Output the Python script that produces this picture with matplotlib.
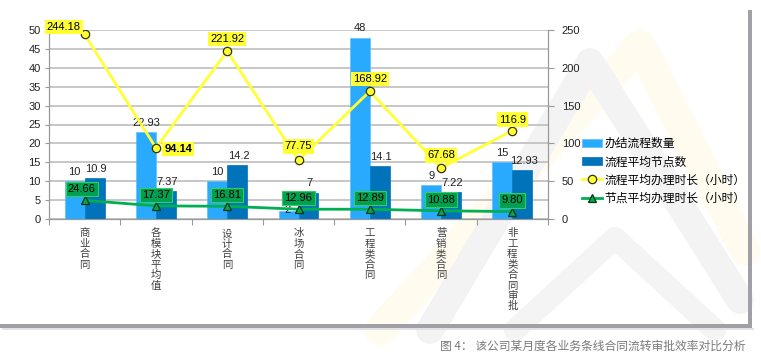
import matplotlib
matplotlib.use("Agg")
import matplotlib.pyplot as plt
import numpy as np
from matplotlib.lines import Line2D
from matplotlib.patches import Rectangle

plt.rcParams['font.family'] = ['Liberation Sans', 'Noto Sans CJK SC', 'DejaVu Sans']

categories = ['商业合同', '各模块平均值', '设计合同', '冰场合同', '工程类合同', '营销类合同', '非工程类合同审批']
done_count = [10, 22.93, 10, 2, 48, 9, 15]
avg_nodes = [10.9, 7.37, 14.2, 7, 14.1, 7.22, 12.93]
flow_hours = [244.18, 94.14, 221.92, 77.75, 168.92, 67.68, 116.9]
node_hours = [24.66, 17.37, 16.81, 12.96, 12.89, 10.88, 9.80]
series_names = ['办结流程数量', '流程平均节点数', '流程平均办理时长（小时）', '节点平均办理时长（小时）']
left_ticks = [0, 5, 10, 15, 20, 25, 30, 35, 40, 45, 50]
right_ticks = [0, 50, 100, 150, 200, 250]
caption = '图 4： 该公司某月度各业务条线合同流转审批效率对比分析'

W, H = 761, 358
fig = plt.figure(figsize=(W / 100, H / 100), dpi=100)


def fx(x):
    return x / W


def fy(y):
    return 1 - y / H


# watermark (faint logo)
for pts, col, lw in [
    ([(380, 330), (640, 45), (745, 250)], '#FFFBEE', 22),
    ([(430, 330), (590, 62), (740, 300)], '#F3F3F3', 20),
    ([(515, 330), (615, 238), (715, 330)], '#F4F4F4', 16),
]:
    xs = [fx(p[0]) for p in pts]
    ys = [fy(p[1]) for p in pts]
    fig.add_artist(Line2D(xs, ys, transform=fig.transFigure, color=col, lw=lw,
                          solid_capstyle='round', solid_joinstyle='round', zorder=-5))

# frame shadow
fig.add_artist(Rectangle((fx(748), fy(328)), 4 / W, 318 / H, transform=fig.transFigure,
                         facecolor='#A0A0A6', edgecolor='none', zorder=-4))
fig.add_artist(Rectangle((fx(0), fy(328)), 752 / W, 4 / H, transform=fig.transFigure,
                         facecolor='#A0A0A6', edgecolor='none', zorder=-4))
fig.add_artist(Rectangle((fx(2), fy(330)), 752 / W, 2 / H, transform=fig.transFigure,
                         facecolor='#E2E2E4', edgecolor='none', zorder=-4))

ax = fig.add_axes([fx(49), fy(219), fx(548) - fx(49), fy(30) - fy(219)])
ax.patch.set_visible(False)
ax2 = ax.twinx()
ax2.patch.set_visible(False)

x = np.arange(len(categories))
bw = 0.28
light = '#29AAFF'
dark = '#0073BA'
b1 = ax.bar(x - bw / 2, done_count, bw, color=light, edgecolor='#5BC0FF', linewidth=0.5, zorder=3,
            label=series_names[0])
b2 = ax.bar(x + bw / 2, avg_nodes, bw, color=dark, edgecolor=dark, linewidth=0.5, zorder=3,
            label=series_names[1])

for i, (xi, v) in enumerate(zip(x, done_count)):
    if v < 5:
        ax.annotate(f'{v:g}', (xi - bw / 2, v), xytext=(-1, 1), textcoords='offset points',
                    ha='center', va='center', fontsize=8, color='#222222', zorder=5)
    else:
        ax.annotate(f'{v:g}', (xi - bw / 2, v), xytext=(0, 3), textcoords='offset points',
                    ha='center', va='bottom', fontsize=8, color='#222222', zorder=5)
for xi, v in zip(x, avg_nodes):
    ax.annotate(f'{v:g}', (xi + bw / 2, v), xytext=(1, 3), textcoords='offset points',
                ha='center', va='bottom', fontsize=8, color='#222222', zorder=5)

ax.set_ylim(0, 50)
ax.set_xlim(-0.5, len(categories) - 0.5)
ax.set_yticks(left_ticks)
ax.yaxis.grid(True, color='#BDBDBD', lw=1.2, zorder=0)
ax.set_axisbelow(True)
ax.tick_params(axis='y', labelsize=8, colors='#222222', length=3, color='#999999', pad=3)
ax.set_xticks(np.arange(len(categories) + 1) - 0.5)
ax.set_xticklabels([])
ax.tick_params(axis='x', length=4, color='#999999')
for i, c in enumerate(categories):
    ax.text(i, -0.05, '\n'.join(c), transform=ax.get_xaxis_transform(), ha='center', va='top',
            fontsize=7.5, color='#404040', linespacing=1.05, family=['Noto Sans CJK SC'])
for s in ['top']:
    ax.spines[s].set_visible(False)
    ax2.spines[s].set_visible(False)
for a in (ax, ax2):
    a.spines['left'].set_color('#999999')
    a.spines['right'].set_color('#999999')
    a.spines['bottom'].set_color('#999999')

ax2.set_ylim(0, 250)
ax2.set_yticks(right_ticks)
ax2.tick_params(axis='y', labelsize=8, colors='#222222', length=4, color='#999999', pad=6)

l1, = ax2.plot(x, flow_hours, color='#FFFF33', lw=2, marker='o', markersize=6,
               markerfacecolor='#FFFF33', markeredgecolor='#333300', markeredgewidth=0.9, zorder=4,
               label=series_names[2])
l2, = ax2.plot(x, node_hours, color='#00B050', lw=2, marker='^', markersize=6,
               markerfacecolor='#00A84A', markeredgecolor='#003318', markeredgewidth=0.9, zorder=4,
               label=series_names[3])

yoffs = [(-15, 5.5), (16, -1), (0, 9), (0, 10), (0, 9), (0, 9), (0, 8)]
for i, (xi, v) in enumerate(zip(x, flow_hours)):
    ax2.annotate(f'{v:g}', (xi, v), xytext=yoffs[i], textcoords='offset points', ha='center', va='center',
                 fontsize=8, color='black', fontweight='bold' if i == 1 else 'normal', zorder=6,
                 bbox=dict(boxstyle='square,pad=0.2', facecolor='#FFFF33', edgecolor='none'))
for i, (xi, v) in enumerate(zip(x, node_hours)):
    ax2.annotate(f'{v:.2f}', (xi, v), xytext=(-2 if i == 0 else 0, 8), textcoords='offset points',
                 ha='center', va='center', fontsize=8, color='black', zorder=6,
                 bbox=dict(boxstyle='square,pad=0.2', facecolor='#00A050', edgecolor='#33CC66', lw=0.8))

handles = [b1, b2, l1, l2]
fig.legend(handles, series_names, loc='upper left', bbox_to_anchor=(fx(582), fy(137)),
           frameon=False, handlelength=1.7, handletextpad=0.2, labelspacing=0.45,
           borderaxespad=0, borderpad=0, prop={'family': ['Noto Sans CJK SC'], 'size': 8.5})

fig.text(fx(745), fy(346), caption, ha='right', va='center', fontsize=8.5, color='#7A7A7A',
         family=['Noto Sans CJK SC'])

fig.savefig('out.png', dpi=100, facecolor='white')
